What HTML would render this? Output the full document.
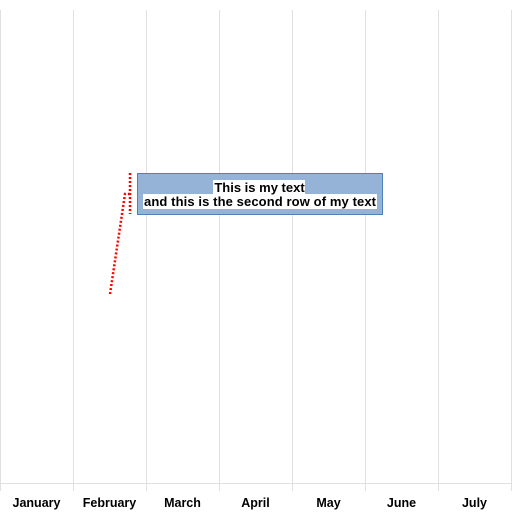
<!DOCTYPE html>
<html><head><meta charset="utf-8"><style>
html,body{margin:0;padding:0;background:#fff;}
svg text{font-family:"Liberation Sans",Arial,sans-serif;font-weight:bold;}
</style></head><body>
<svg id="chart" width="512" height="512" viewBox="0 0 512 512" xmlns="http://www.w3.org/2000/svg">
<g id="grid"></g>
<g id="xaxis"></g>
<g>
<polyline points="110,294 125,194 130,194" fill="none" stroke="#ff0000" stroke-width="2.5" stroke-dasharray="2,2"/>
<line x1="130" y1="173" x2="130" y2="214" stroke="#ff0000" stroke-width="2.5" stroke-dasharray="2,2"/>
<rect x="137.5" y="173.5" width="245" height="41" fill="#95b3d7" stroke="#4f81bd" stroke-width="1"/>
<rect x="213" y="180" width="92" height="14" fill="#fff"/>
<rect x="143" y="194" width="234" height="15" fill="#fff"/>
<text x="259.5" y="192" font-size="13" text-anchor="middle" fill="#000">This is my text</text>
<text x="260" y="206" font-size="13" text-anchor="middle" fill="#000" textLength="232" lengthAdjust="spacing">and this is the second row of my text</text>
</g>
</svg>
<script>
const categories = ["January","February","March","April","May","June","July"];
const plotLeft = 0, plotRight = 511, plotTop = 10, plotBottom = 483;
const ns = "http://www.w3.org/2000/svg";
const bw = (plotRight - plotLeft) / categories.length;
function xBand(i){ return plotLeft + i * bw; }
const grid = document.getElementById('grid');
const xa = document.getElementById('xaxis');
for (let i = 0; i <= categories.length; i++) {
  const x = Math.round(xBand(i)) + 0.5;
  const l = document.createElementNS(ns, 'line');
  
  
  l.setAttribute('x1', x); l.setAttribute('x2', x);
  l.setAttribute('y1', plotTop); l.setAttribute('y2', 491);
  l.setAttribute('stroke', '#e0e0e0'); l.setAttribute('stroke-width', '1');
  grid.appendChild(l);
}
const ax = document.createElementNS(ns, 'line');


ax.setAttribute('x1', plotLeft); ax.setAttribute('x2', plotRight + 1);
ax.setAttribute('y1', plotBottom + 0.5); ax.setAttribute('y2', plotBottom + 0.5);
ax.setAttribute('stroke', '#e0e0e0');
xa.appendChild(ax);
categories.forEach((c, i) => {
  const t = document.createElementNS(ns, 'text');
  
  
  t.setAttribute('x', xBand(i) + bw / 2);
  t.setAttribute('y', 507);
  t.setAttribute('font-size', '12.5');
  t.setAttribute('text-anchor', 'middle');
  t.setAttribute('fill', '#000');
  t.textContent = c;
  xa.appendChild(t);
});
</script>
</body></html>
